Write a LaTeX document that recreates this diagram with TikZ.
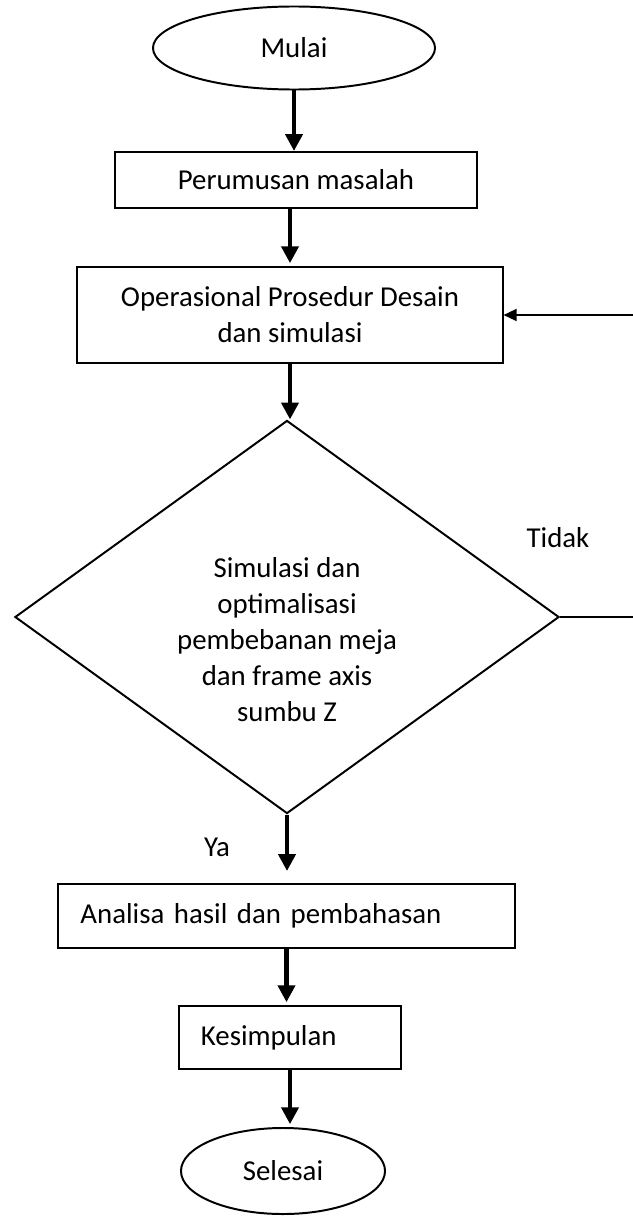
\documentclass[tikz,border=0pt]{standalone}
\usepackage{fontspec}
\setmainfont{Carlito}
\usetikzlibrary{arrows.meta, positioning, shapes.geometric}

\begin{document}
\begin{tikzpicture}[
    x=0.025cm, y=-0.025cm,
    every node/.style={font=\fontsize{20.5}{25.6}\selectfont},
    startstop/.style={
        draw,
        ellipse,
        line width=1.4pt,
        inner sep=0pt
    },
    process/.style={
        draw,
        rectangle,
        line width=1.4pt,
        align=center
    },
    decision/.style={
        draw,
        diamond,
        line width=1.4pt,
        inner sep=0pt
    },
    flowarrow/.style={
        -{Triangle[length=0.42cm, width=0.42cm]},
        line width=3.5pt
    },
    backlink/.style={
        -{Triangle[length=0.33cm, width=0.3cm]},
        line width=1.4pt
    }
]
    \useasboundingbox (0,0) rectangle (632,1216);

    \node[startstop, minimum width=7.05cm, minimum height=2.075cm] (mulai) at (294,48) {Mulai};
    \node[process, minimum width=9.025cm, minimum height=1.4cm] (rumus) at (296,180) {Perumusan masalah};
    \node[process, minimum width=10.625cm, minimum height=2.4cm] (ops) at (290,315)
        {Operasional Prosedur Desain\\dan simulasi};
    \node[decision, minimum width=13.6cm, minimum height=9.825cm] (dec) at (287,617) {};
    \node[align=center] (dectext) at (287,640)
        {Simulasi dan\\optimalisasi\\pembebanan meja\\dan frame axis\\sumbu Z};
    \node[process, text width=10.3cm, inner xsep=0.55cm, minimum height=1.6cm, align=left] (analisa) at (286.5,916)
        {Analisa hasil dan pembahasan};
    \node[process, text width=4.45cm, inner xsep=0.55cm, minimum height=1.575cm, align=left] (simpul) at (290,1037.5)
        {Kesimpulan};
    \node[startstop, minimum width=5.1cm, minimum height=2.15cm] (selesai) at (283,1171)
        {Selesai\hspace{0.85cm}};

    \node (tidak) at (558,538) {Tidak};
    \node (ya) at (217,847) {Ya};

    \coordinate (loop) at (645,617);

    \draw[flowarrow] (mulai.south) -- (mulai.south |- rumus.north);
    \draw[flowarrow, shorten >=2pt] (ops.north |- rumus.south) -- (ops.north);
    \draw[flowarrow] (ops.south) -- (ops.south |- dec.north);
    \draw[flowarrow, shorten >=0.3cm] (dec.south) -- (dec.south |- analisa.north);
    \draw[flowarrow, shorten >=2pt] (analisa.south) -- (analisa.south |- simpul.north);
    \draw[flowarrow, shorten >=2pt] (simpul.south) -- (simpul.south |- selesai.north);

    \draw[backlink] (dec.east) -- (loop) |- (ops.east);
\end{tikzpicture}
\end{document}
